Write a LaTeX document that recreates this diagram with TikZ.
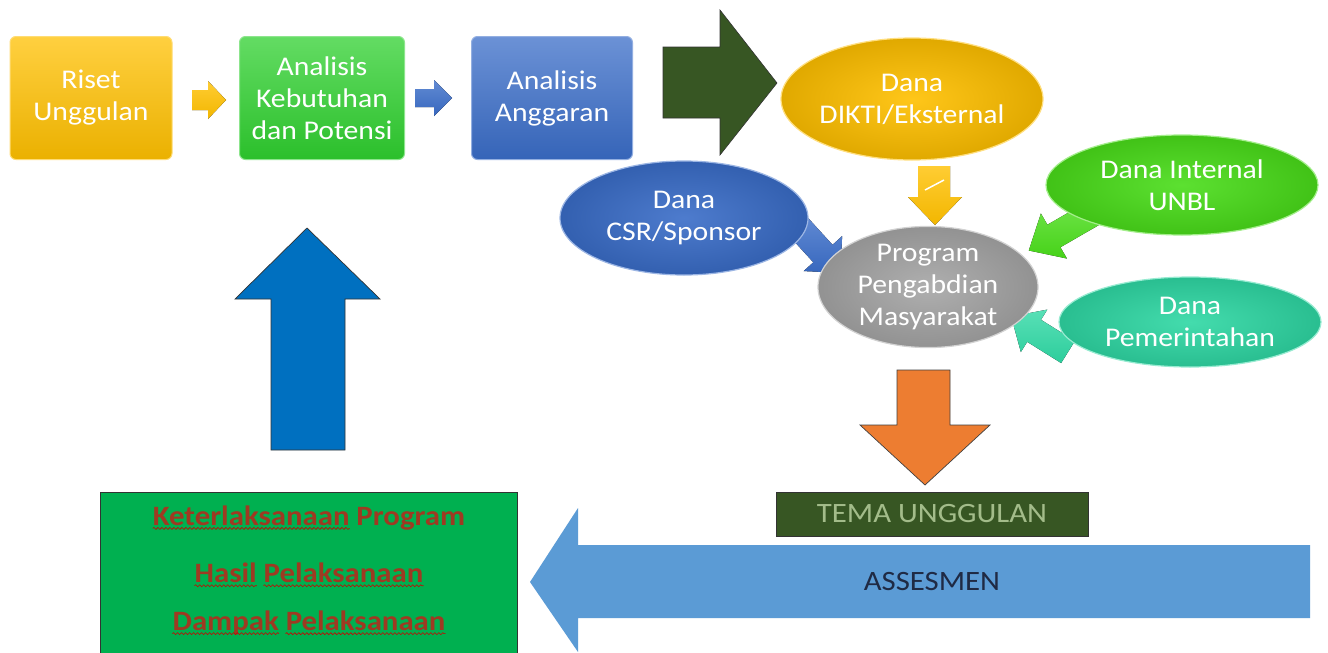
\documentclass[tikz,border=0pt]{standalone}
\usepackage{fontspec}
\setmainfont{Carlito}[FakeStretch=1.1]
\usetikzlibrary{shapes.geometric,decorations.pathmorphing}
\definecolor{cyel}{HTML}{FFC000}
\definecolor{cgrn}{HTML}{2FD02F}
\definecolor{cblu}{HTML}{3A6DC8}
\definecolor{cgry}{HTML}{A6A6A6}
\definecolor{clime}{HTML}{4ADD1A}
\definecolor{cteal}{HTML}{2FD8A4}
\definecolor{cdkg}{HTML}{375623}
\definecolor{cora}{HTML}{ED7D31}
\definecolor{cass}{HTML}{5B9BD5}
\definecolor{cbgrn}{HTML}{00B050}
\definecolor{cupb}{HTML}{0070C0}
\definecolor{ctxtred}{HTML}{9E3A22}
\definecolor{ctema}{HTML}{A3BC8A}
\definecolor{cnavy}{HTML}{1F2A44}
\begin{document}
\begin{tikzpicture}[x=1pt,y=-1pt,
  every node/.style={font=\fontsize{27}{32}\selectfont, text=white, align=center, inner sep=0pt},
  procbox/.style={rectangle, rounded corners=6pt, top color=#1!75!white, bottom color=#1!92!black, draw=#1!55!white, line width=1pt},
  oval/.style={ellipse, inner color=#1!90!white, outer color=#1!88!black, draw=#1!50!white, line width=1.2pt},
  sarrow/.style={top color=#1!80!white, bottom color=#1!95!black, draw=none},
  redtxt/.style={text=ctxtred, font=\bfseries\fontsize{28}{32}\selectfont},
  wave/.style={red!80!black, line width=0.6pt, decorate, decoration={snake, segment length=4pt, amplitude=1pt}}]
\clip (0,0) rectangle (1328,653);
\fill[white] (0,0) rectangle (1328,653);

% top row boxes
\node[procbox=cyel, minimum width=162, minimum height=123] (riset) at (91,98) {Riset\\Unggulan};
\node[procbox=cgrn, minimum width=165, minimum height=123] (keb) at (322,98) {Analisis\\Kebutuhan\\dan Potensi};
\node[procbox=cblu, minimum width=161, minimum height=123] (ang) at (552,98) {Analisis\\Anggaran};

% small arrows
\fill[sarrow=cyel] (192,90) -- (208,90) -- (208,81) -- (226,100) -- (208,119) -- (208,110) -- (192,110) -- cycle;
\fill[sarrow=cblu] (415,89) -- (434,89) -- (434,80) -- (452,98) -- (434,116) -- (434,107) -- (415,107) -- cycle;

% big dark green arrow
\filldraw[fill=cdkg, draw=black!80, line width=0.6pt] (663,47) -- (720,47) -- (720,10) -- (777,83) -- (720,155) -- (720,118) -- (663,118) -- cycle;

% arrows into program (drawn under ellipses)
\begin{scope}[shift={(796,224)}, rotate=-47.7]
  \fill[sarrow=cblu] (0,-13) -- (40,-13) -- (40,-26) -- (66,0) -- (40,26) -- (40,13) -- (0,13) -- cycle;
\end{scope}
\begin{scope}[shift={(1092,214)}, rotate=-150]
  \fill[sarrow=clime] (0,-13) -- (44,-13) -- (44,-26) -- (73,0) -- (44,26) -- (44,13) -- (0,13) -- cycle;
\end{scope}
\begin{scope}[shift={(1068,352)}, rotate=148]
  \fill[sarrow=cteal] (0,-13) -- (40,-13) -- (40,-25) -- (67,0) -- (40,25) -- (40,13) -- (0,13) -- cycle;
\end{scope}

% ellipses
\node[oval=cyel, minimum width=262, minimum height=122] (dikti) at (912,99) {Dana\\DIKTI/Eksternal};
\node[oval=cblu, minimum width=248, minimum height=114] (csr) at (684,218) {Dana\\CSR/Sponsor};
\node[oval=clime, minimum width=272, minimum height=100] (unbl) at (1182,185) {Dana Internal\\UNBL};
\node[oval=cteal, minimum width=262, minimum height=90] (pem) at (1190,322) {Dana\\Pemerintahan};
\node[oval=cgry, minimum width=220, minimum height=117] (prog) at (928,287) {Program\\Pengabdian\\Masyarakat};

% yellow down arrow
\fill[sarrow=cyel] (918,166) -- (950,166) -- (950,197) -- (962,197) -- (935,225) -- (908,197) -- (918,197) -- cycle;
\draw[white, line width=1.5pt] (925,190) -- (944,180);

% orange down arrow
\filldraw[fill=cora, draw=black!75, line width=0.7pt] (897,370) -- (950,370) -- (950,425) -- (990,425) -- (925,485) -- (860,425) -- (897,425) -- cycle;

% assesmen arrow
\fill[cass] (1310,545) -- (578,545) -- (578,508) -- (530,582) -- (578,652) -- (578,618) -- (1310,618) -- cycle;
\node[text=cnavy, font=\fontsize{28}{32}\selectfont] (ass) at (932,582) {ASSESMEN};

% tema unggulan
\node[draw=black!80, line width=0.8pt, fill=cdkg, text=ctema, minimum width=312, minimum height=44, font=\fontsize{28}{32}\selectfont] (tema) at (932,514) {TEMA UNGGULAN};

% bottom-left green box
\filldraw[fill=cbgrn, draw=black!80, line width=1pt] (100,492) rectangle (517,665);
\node[redtxt] (t1) at (309,518) {Keterlaksanaan Program};
\node[redtxt] (t2) at (309,573) {Hasil Pelaksanaan};
\node[redtxt] (t3) at (309,623) {Dampak Pelaksanaan};
\node[redtxt, anchor=base west] (w1) at (t1.base west) {\phantom{Keterlaksanaan}};
\node[redtxt, anchor=base west] (w2) at (t2.base west) {\phantom{Hasil}};
\node[redtxt, anchor=base east] (w3) at (t2.base east) {\phantom{Pelaksanaan}};
\node[redtxt, anchor=base west] (w4) at (t3.base west) {\phantom{Dampak}};
\node[redtxt, anchor=base east] (w5) at (t3.base east) {\phantom{Pelaksanaan}};
\foreach \w in {w1,w2,w3,w4,w5}
  \draw[wave] ([yshift=-3pt]\w.base west) -- ([yshift=-3pt]\w.base east);

% big blue up arrow
\filldraw[fill=cupb, draw=black!80, line width=0.7pt] (271,450) -- (271,299) -- (235,299) -- (307,228) -- (380,299) -- (345,299) -- (345,450) -- cycle;
\end{tikzpicture}
\end{document}
